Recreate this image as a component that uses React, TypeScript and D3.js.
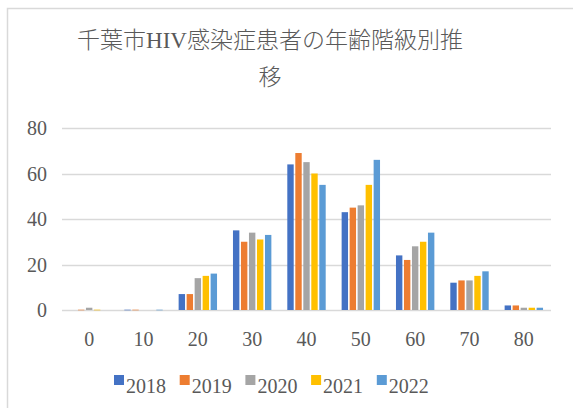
import React from 'react';
import * as d3 from 'd3';

// age groups (x axis)
const categories = ['0', '10', '20', '30', '40', '50', '60', '70', '80'];
const years = ['2018', '2019', '2020', '2021', '2022'];
const colors = ['#4472C4', '#ED7D31', '#A5A5A5', '#FFC000', '#5B9BD5'];

// values per year, null = no data
const v2018 = [null, 0, 7, 35, 64, 43, 24, 12, 2];
const v2019 = [0, 0, 7, 30, 69, 45, 22, 13, 2];
const v2020 = [1, null, 14, 34, 65, 46, 28, 13, 1];
const v2021 = [0, null, 15, 31, 60, 55, 30, 15, 1];
const v2022 = [null, 0, 16, 33, 55, 66, 34, 17, 1];
const seriesValues: (number | null)[][] = [v2018, v2019, v2020, v2021, v2022];

const yTicks = [0, 20, 40, 60, 80];
const titleLines = ['千葉市HIV感染症患者の年齢階級別推', '移'];

const W = 573;
const H = 408;
const numFont = "'Liberation Serif', 'DejaVu Serif', serif";
const titleFont = "'Liberation Serif', 'Noto Sans CJK JP', serif";
const textColor = '#595959';

export default function App() {
  const x = d3.scaleBand<string>()
    .domain(categories)
    .range([62, 551])
    .paddingInner(0.264)
    .paddingOuter(0.132);
  const xi = d3.scaleBand<string>()
    .domain(years)
    .range([0, x.bandwidth()])
    .paddingInner(0.2)
    .paddingOuter(0.1);
  const y = d3.scaleLinear().domain([0, 80]).range([310, 128]);

  const numStyle = { fontFamily: numFont, fontSize: 20, fill: textColor };

  return (
    <div style={{ position: 'fixed', left: 0, top: 0, width: W, height: H, background: '#fff' }}>
      <svg width={W} height={H} style={{ display: 'block' }}>
        <rect x={7.5} y={8.5} width={W + 10} height={H + 10} fill="#fff" stroke="#d9d9d9" strokeWidth={1.5} />

        <text textAnchor="middle" style={{ fontFamily: titleFont, fontSize: 23, fill: textColor, fontWeight: 300 }}>
          {titleLines.map((t, i) => (
            <tspan key={i} x={270} y={48 + i * 37}>{t}</tspan>
          ))}
        </text>

        {yTicks.map((t) => (
          <g key={t}>
            <line x1={62} x2={551} y1={Math.round(y(t)) + 0.5} y2={Math.round(y(t)) + 0.5} stroke="#d9d9d9" strokeWidth={1.3} />
            <text x={47} y={y(t)} dy="0.35em" textAnchor="end" style={numStyle}>{t}</text>
          </g>
        ))}

        {categories.map((c, ci) => (
          <g key={c} transform={`translate(${x(c)},0)`}>
            {years.map((yr, si) => {
              const v = seriesValues[si][ci];
              if (v === null) return null;
              const x0 = xi(yr) as number;
              if (v === 0) {
                return <rect key={yr} x={x0} y={y(0) - 1} width={xi.bandwidth()} height={2} fill={colors[si]} opacity={0.3} />;
              }
              return <rect key={yr} x={x0} y={y(v)} width={xi.bandwidth()} height={y(0) - y(v)} fill={colors[si]} />;
            })}
            <text x={x.bandwidth() / 2} y={339} dy="0.35em" textAnchor="middle" style={numStyle}>{c}</text>
          </g>
        ))}

        {years.map((yr, i) => (
          <g key={yr} transform={`translate(${114 + i * 65.7},0)`}>
            <rect x={0} y={375} width={10} height={10} fill={colors[i]} />
            <text x={12} y={393} style={numStyle}>{yr}</text>
          </g>
        ))}
      </svg>
    </div>
  );
}
